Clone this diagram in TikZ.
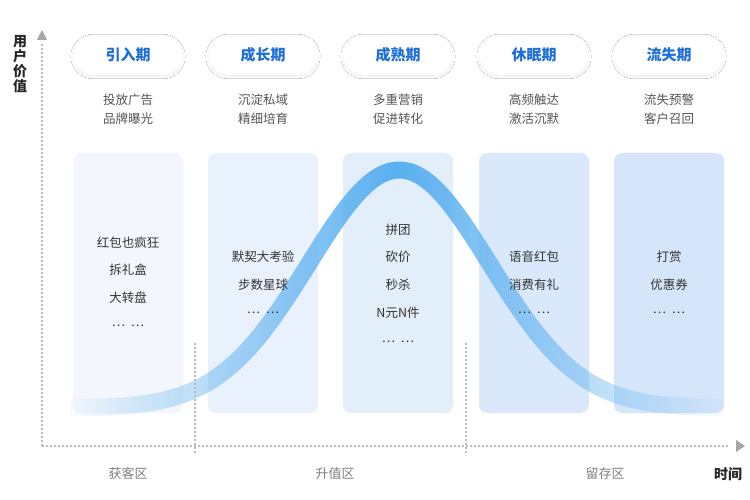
\documentclass[tikz,border=0pt]{standalone}
\usepackage{fontspec}
\setmainfont{Noto Sans CJK SC}
\usetikzlibrary{shadows.blur,fadings}
\definecolor{pblue}{HTML}{1E6FD9}
\definecolor{dgray}{HTML}{555555}
\definecolor{axg}{HTML}{BBBBBB}
\definecolor{cblue}{HTML}{5AB0F0}
\tikzfading[name=hfade, left color=transparent!100, right color=transparent!100, middle color=transparent!0]
\begin{document}
\begin{tikzpicture}[x=1pt,y=-1pt,
  pill/.style={draw=gray!8,fill=white,rounded corners=20pt,minimum width=110pt,minimum height=40pt,
     font=\fontsize{15}{15}\selectfont\bfseries,text=pblue,blur shadow={shadow blur steps=8,shadow xshift=0pt,shadow yshift=-1.5pt,shadow opacity=7}},
  desc/.style={font=\fontsize{12.5}{19}\selectfont,text=dgray,align=center},
  item/.style={font=\fontsize{12.5}{14}\selectfont,text=black!80},
  box/.style={rounded corners=8pt,minimum width=110pt,minimum height=260pt,inner sep=0},
  ax/.style={axg,line width=1.6pt,dash pattern=on 1.6pt off 2.4pt},
  zone/.style={font=\fontsize{13}{14}\selectfont,text=gray}]
\useasboundingbox (0,0) rectangle (750,500);
\fill[white] (0,0) rectangle (750,500);
% boxes
\foreach \x/\c [count=\i] in {128/F3F7FD,263/E8F1FC,398/E3EEFB,534/D9E8FA,669/D6E6FA}{
  \definecolor{bc\i}{HTML}{\c}
  \node[box,fill=bc\i] (b\i) at (\x,283) {};
}
% curve
\draw[cblue,line width=17pt,path fading=hfade]
   plot[domain=70:725,samples=120,smooth] (\x,{408-238*exp(-((\x-400)/128)^2)});
% pills and descriptions
\foreach \x/\t/\da/\db [count=\i] in {128/引入期/投放广告/品牌曝光,263/成长期/沉淀私域/精细培育,398/成熟期/多重营销/促进转化,534/休眠期/高频触达/激活沉默,669/流失期/流失预警/客户召回}{
  \node[pill] (p\i) at (\x,55) {\t};
  \node[desc] (d\i) at (\x,109) {\da\\\db};
}
% items
\node[item] (i11) at (128,243) {红包也疯狂};
\node[item] (i12) at (128,270) {拆礼盒};
\node[item] (i13) at (128,298) {大转盘};
\node[item] (i14) at (128,326) {…\ \ …};
\node[item] (i21) at (263,257) {默契大考验};
\node[item] (i22) at (263,285) {步数星球};
\node[item] (i23) at (263,313) {…\ \ …};
\node[item] (i31) at (398,230) {拼团};
\node[item] (i32) at (398,257) {砍价};
\node[item] (i33) at (398,285) {秒杀};
\node[item] (i34) at (398,313) {N元N件};
\node[item] (i35) at (398,342) {…\ \ …};
\node[item] (i41) at (534,257) {语音红包};
\node[item] (i42) at (534,285) {消费有礼};
\node[item] (i43) at (534,313) {…\ \ …};
\node[item] (i51) at (669,257) {打赏};
\node[item] (i52) at (669,285) {优惠券};
\node[item] (i53) at (669,313) {…\ \ …};
% axes
\coordinate (o) at (42,446);
\coordinate (yt) at (42,42);
\coordinate (xt) at (728,446);
\draw[ax] (o) -- (yt);
\draw[ax] (o) -- (xt);
\fill[gray!70] (37,40) -- (47,40) -- (42,30) -- cycle;
\fill[gray!70] (736,440) -- (736,452) -- (745,446) -- cycle;
\coordinate (s1a) at (195,343); \coordinate (s1b) at (195,455);
\coordinate (s2a) at (466,343); \coordinate (s2b) at (466,455);
\draw[ax] (s1a) -- (s1b);
\draw[ax] (s2a) -- (s2b);
\node[font=\fontsize{14}{15}\selectfont\bfseries,align=center,text=black!85] (yl) at (20,64) {用\\户\\价\\值};
\node[font=\fontsize{14}{15}\selectfont\bfseries,text=black!85] (xl) at (728,474) {时间};
\node[zone] (z1) at (128,474) {获客区};
\node[zone] (z2) at (335,474) {升值区};
\node[zone] (z3) at (605,474) {留存区};
\end{tikzpicture}
\end{document}
